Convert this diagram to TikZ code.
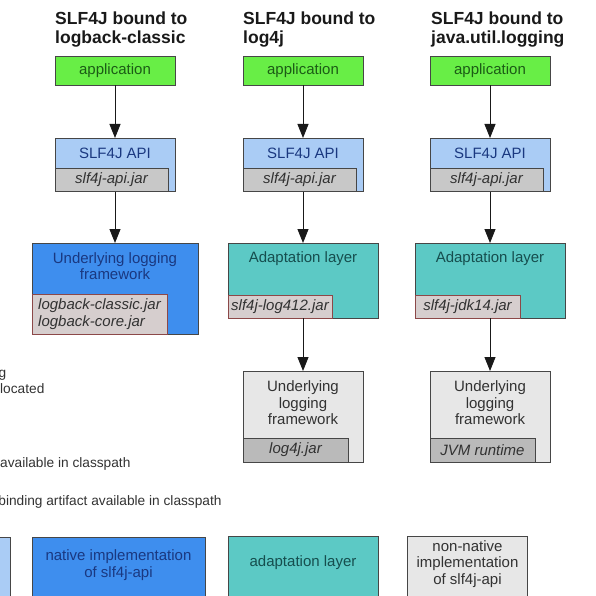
\documentclass[tikz,border=0pt]{standalone}
\usepackage{fontspec}
\setmainfont{Liberation Sans}
\usetikzlibrary{arrows.meta}
\definecolor{edgegray}{RGB}{70,70,70}
\definecolor{appgreen}{RGB}{104,238,70}
\definecolor{apiblue}{RGB}{170,204,245}
\definecolor{nativeblue}{RGB}{62,142,238}
\definecolor{adaptteal}{RGB}{92,201,197}
\definecolor{nonnative}{RGB}{231,231,231}
\definecolor{jargray}{RGB}{200,200,200}
\definecolor{jarpink}{RGB}{214,206,206}
\definecolor{jarred}{RGB}{140,72,72}
\definecolor{jardark}{RGB}{186,186,186}
\definecolor{greentext}{RGB}{28,92,22}
\definecolor{bluetext}{RGB}{26,56,128}
\definecolor{tealtext}{RGB}{22,78,78}
\definecolor{graytext}{RGB}{50,50,50}
\newcommand{\boxfont}{\fontsize{15}{16.5}\selectfont}
\newcommand{\legfont}{\fontsize{13.7}{16}\selectfont}
\begin{document}
\begin{tikzpicture}[x=1pt,y=-1pt,
  box/.style={draw=edgegray, line width=0.9pt, rectangle, inner sep=0pt, outer sep=0pt, anchor=north west},
  jarbox/.style={box, anchor=south west},
  txt/.style={inner sep=0pt, align=center, font=\boxfont},
  jartxt/.style={inner sep=0pt, align=left, font=\boxfont\itshape, text=graytext},
  titletxt/.style={inner sep=0pt, align=left, anchor=north west, font=\fontsize{17.5}{19.5}\selectfont\bfseries, text=black!90},
  legtxt/.style={inner sep=0pt, anchor=base west, font=\legfont, text=graytext},
  arr/.style={draw=black!90, line width=0.9pt, -{Triangle[length=14pt,width=11pt]}}]
\useasboundingbox (0,0) rectangle (595,596);
\clip (0,0) rectangle (595,596);

% titles
\node[titletxt] (t1) at (55,11.5) {SLF4J bound to\\logback-classic};
\node[titletxt] (t2) at (243,11.5) {SLF4J bound to\\log4j};
\node[titletxt] (t3) at (431,11.5) {SLF4J bound to\\java.util.logging};

% application boxes
\node[box, fill=appgreen, minimum width=120pt, minimum height=29.5pt] (app1) at (55,56) {};
\node[box, fill=appgreen, minimum width=120pt, minimum height=29.5pt] (app2) at (243,56) {};
\node[box, fill=appgreen, minimum width=120pt, minimum height=29.5pt] (app3) at (430,56) {};
\node[txt, text=greentext] (app1t) at (app1.center) {application};
\node[txt, text=greentext] (app2t) at (app2.center) {application};
\node[txt, text=greentext] (app3t) at (app3.center) {application};

% SLF4J API boxes
\node[box, fill=apiblue, minimum width=120pt, minimum height=53.5pt] (api1) at (55,138) {};
\node[box, fill=apiblue, minimum width=120pt, minimum height=53.5pt] (api2) at (243,138) {};
\node[box, fill=apiblue, minimum width=120pt, minimum height=53.5pt] (api3) at (430,138) {};
\node[jarbox, fill=jargray, minimum width=113pt, minimum height=23.5pt] (api1j) at (api1.south west) {};
\node[jarbox, fill=jargray, minimum width=113pt, minimum height=23.5pt] (api2j) at (api2.south west) {};
\node[jarbox, fill=jargray, minimum width=113pt, minimum height=23.5pt] (api3j) at (api3.south west) {};
\node[txt, text=bluetext] (api1t) at (115,153) {SLF4J API};
\node[txt, text=bluetext] (api2t) at (303,153) {SLF4J API};
\node[txt, text=bluetext] (api3t) at (490,153) {SLF4J API};
\node[jartxt] (api1jt) at (api1j.center) {slf4j-api.jar};
\node[jartxt] (api2jt) at (api2j.center) {slf4j-api.jar};
\node[jartxt] (api3jt) at (api3j.center) {slf4j-api.jar};

% column 1: native logback
\node[box, fill=nativeblue, minimum width=166pt, minimum height=91pt] (und1) at (32,243) {};
\node[jarbox, fill=jarpink, draw=jarred, minimum width=135pt, minimum height=39.5pt] (und1j) at (und1.south west) {};
\node[txt, text=bluetext] (und1t) at (115,266) {Underlying logging\\framework};
\node[jartxt] (und1jt) at (und1j.center) {logback-classic.jar\\logback-core.jar};

% columns 2,3: adaptation layers
\node[box, fill=adaptteal, minimum width=150pt, minimum height=75pt] (ad2) at (228,243) {};
\node[box, fill=adaptteal, minimum width=150pt, minimum height=75pt] (ad3) at (415,243) {};
\node[jarbox, fill=jarpink, draw=jarred, minimum width=104pt, minimum height=22.5pt] (ad2j) at (ad2.south west) {};
\node[jarbox, fill=jarpink, draw=jarred, minimum width=105pt, minimum height=22.5pt] (ad3j) at (ad3.south west) {};
\node[txt, text=tealtext] (ad2t) at (303,259) {Adaptation layer};
\node[txt, text=tealtext] (ad3t) at (490,259) {Adaptation layer};
\node[jartxt] (ad2jt) at (ad2j.center) {slf4j-log412.jar};
\node[jartxt] (ad3jt) at (ad3j.center) {slf4j-jdk14.jar};

% non-native frameworks
\node[box, fill=nonnative, minimum width=120pt, minimum height=91pt] (nn2) at (243,371) {};
\node[box, fill=nonnative, minimum width=120pt, minimum height=91pt] (nn3) at (430,371) {};
\node[jarbox, fill=jardark, minimum width=105pt, minimum height=24pt] (nn2j) at (nn2.south west) {};
\node[jarbox, fill=jardark, minimum width=105pt, minimum height=24pt] (nn3j) at (nn3.south west) {};
\node[txt, text=graytext] (nn2t) at (303,403) {Underlying\\logging\\framework};
\node[txt, text=graytext] (nn3t) at (490,403) {Underlying\\logging\\framework};
\node[jartxt] (nn2jt) at (nn2j.center) {log4j.jar};
\node[jartxt] (nn3jt) at (nn3j.center) {JVM runtime};

% arrows
\draw[arr] (app1) -- (api1);
\draw[arr] (app2) -- (api2);
\draw[arr] (app3) -- (api3);
\draw[arr] (api1) -- (und1);
\draw[arr] (api2) -- (ad2);
\draw[arr] (api3) -- (ad3);
\draw[arr] (ad2) -- (nn2);
\draw[arr] (ad3) -- (nn3);

% partial legend texts on the left
\node[legtxt] (lg1) at (-1.5,377) {g};
\node[legtxt] (lg2) at (0,393) {located};
\node[legtxt] (lg3) at (0,467) {available in classpath};
\node[legtxt] (lg4) at (-1.8,505) {binding artifact available in classpath};

% legend boxes
\node[box, fill=apiblue, minimum width=60pt, minimum height=70pt] (lb0) at (-50,537) {};
\node[box, fill=nativeblue, minimum width=173pt, minimum height=70pt] (lb1) at (32,537) {};
\node[box, fill=adaptteal, minimum width=150pt, minimum height=70pt] (lb2) at (228,536) {};
\node[box, fill=nonnative, minimum width=120pt, minimum height=70pt] (lb3) at (407.5,536) {};
\node[txt, text=bluetext] (lb1t) at (118.5,565) {native implementation\\of slf4j-api};
\node[txt, text=tealtext] (lb2t) at (303,563) {adaptation layer};
\node[txt, text=graytext] (lb3t) at (467.5,564) {non-native\\implementation\\of slf4j-api};
\end{tikzpicture}
\end{document}
